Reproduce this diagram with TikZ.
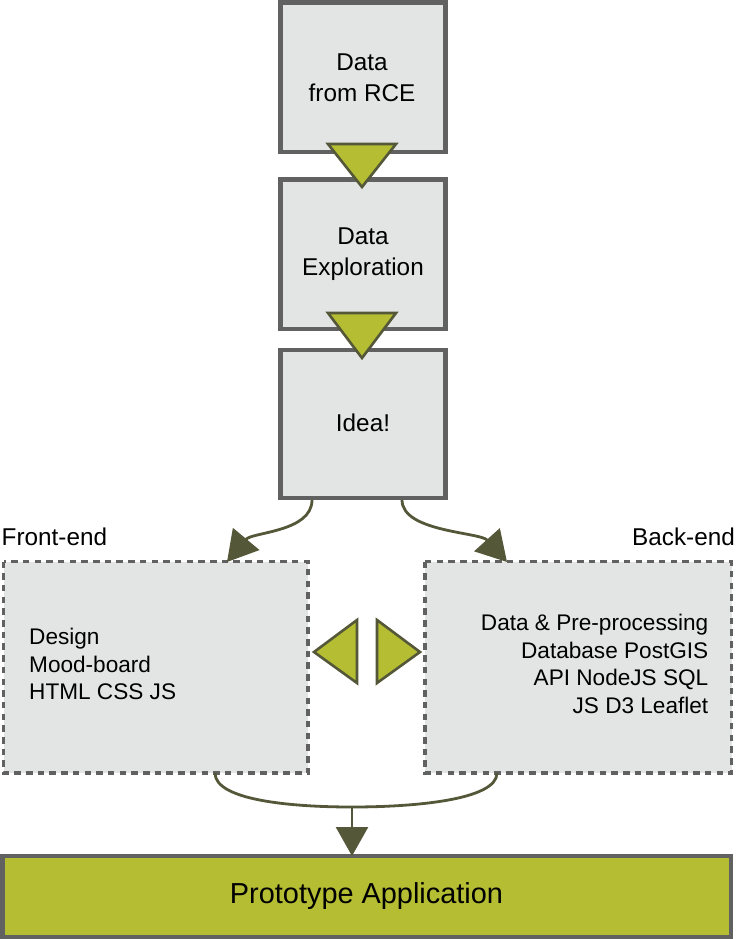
\documentclass[tikz,border=0pt]{standalone}
\usepackage{fontspec}
\setmainfont{Liberation Sans}
\usetikzlibrary{arrows.meta}
\definecolor{boxgray}{HTML}{E3E4E4}
\definecolor{edgegray}{HTML}{616161}
\definecolor{olive}{HTML}{B5BD33}
\definecolor{darkolive}{HTML}{545738}
\tikzset{
  stepbox/.style={draw=edgegray, line width=4.5pt, fill=boxgray},
  dashbox/.style={draw=edgegray, line width=3.4pt, fill=boxgray, dash pattern=on 6.5pt off 5.2pt},
  tri/.style={draw=darkolive, line width=2.6pt, fill=olive, line join=miter},
  conn/.style={draw=darkolive, line width=2.8pt},
  bigtip/.style={-{Triangle[length=30pt,width=34pt]}},
  txt/.style={font=\fontsize{24.3}{30.5}\selectfont, inner sep=0pt},
  smalltxt/.style={font=\fontsize{22.6}{27.5}\selectfont, inner sep=0pt},
}
\begin{document}
\begin{tikzpicture}[x=1pt,y=-1pt]
\useasboundingbox (0,0) rectangle (736,939);
% main boxes
\draw[stepbox] (280.5,2.5) rectangle (445.5,152);
\draw[stepbox] (280.5,179.5) rectangle (445.5,329);
\draw[stepbox] (280.5,350) rectangle (445.5,498);
\node[txt, align=center] (rce) at (362,78) {Data\\from RCE};
\node[txt, align=center] (expl) at (363,254) {Data\\Exploration};
\node[txt] (idea) at (363,423) {Idea!};
\coordinate (ideaL) at (312,500);
\coordinate (ideaR) at (402,500);
% down triangles
\draw[tri] (328,144) -- (396,144) -- (362,187) -- cycle;
\draw[tri] (328,313) -- (396,313) -- (362,358) -- cycle;
% dashed boxes
\draw[dashbox] (3.5,561.5) rectangle (308,773);
\draw[dashbox] (425,561.5) rectangle (731.5,773);
\node[txt, anchor=base west] (fe) at (1.5,545) {Front-end};
\node[txt, anchor=base east] (be) at (735,545) {Back-end};
\node[smalltxt, align=left, anchor=west] (fetext) at (29,664) {Design\\Mood-board\\HTML CSS JS};
\node[smalltxt, align=right, anchor=east] (betext) at (708.5,664) {Data \& Pre-processing\\Database PostGIS\\API NodeJS SQL\\JS D3 Leaflet\hspace{5pt}};
\coordinate (feTop) at (227,562);
\coordinate (beTop) at (507,562);
\coordinate (feBot) at (215,773);
\coordinate (beBot) at (497,773);
% side triangles
\draw[tri] (314,652) -- (357,620) -- (357,683) -- cycle;
\draw[tri] (420,652) -- (377,620) -- (377,683) -- cycle;
% prototype
\draw[stepbox, fill=olive] (2.5,856) rectangle (731,937);
\node[font=\fontsize{28.9}{34}\selectfont, anchor=base, inner sep=0pt] (proto) at (366.5,903) {Prototype Application};
\coordinate (protoTop) at (352,856);
\coordinate (merge) at (352,807);
% connectors
\draw[conn, bigtip] (ideaL) .. controls (312,532) and (252,532) .. (feTop);
\draw[conn, bigtip] (ideaR) .. controls (402,532) and (480,532) .. (beTop);
\draw[conn] (feBot) .. controls (215,800) and (290,807) .. (merge);
\draw[conn] (beBot) .. controls (497,800) and (414,807) .. (merge);
\draw[conn, line width=2.5pt, -{Triangle[length=29pt,width=32pt]}] (merge) -- (protoTop);
\end{tikzpicture}
\end{document}
